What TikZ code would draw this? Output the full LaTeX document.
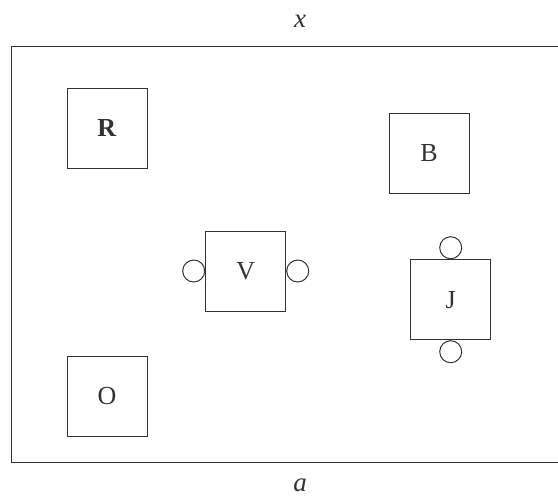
\documentclass[tikz,border=0pt]{standalone}
\usepackage{fontspec}
\setmainfont{Liberation Serif}
\definecolor{ink}{HTML}{333333}
\begin{document}
\begin{tikzpicture}[x=1pt,y=-1pt,
  box/.style={draw=ink, line width=1.0pt, minimum width=80pt, minimum height=80pt, inner sep=0pt, font=\fontsize{26}{30}\selectfont, text=ink},
  port/.style={draw=ink, line width=1.0pt, circle, minimum size=22pt, inner sep=0pt, fill=white},
  frame/.style={draw=ink, line width=1.3pt, minimum width=578pt, minimum height=416pt, inner sep=0pt, anchor=north west},
  lbl/.style={font=\fontsize{27}{30}\selectfont\itshape, text=ink, inner sep=0pt}]
\useasboundingbox (0,0) rectangle (558,496);
\clip (0,0) rectangle (558,496);
\node[frame] (fr) at (11,45.5) {};
\node[lbl] (xl) at (300,21) {x};
\node[lbl] (al) at (300,485) {a};
\node[box] (R) at (107,128) {\textbf{R}};
\node[box] (B) at (429,153) {B};
\node[box] (V) at (245.7,271) {V};
\node[box] (J) at (450.7,299.7) {J};
\node[box] (O) at (107,396.5) {O};
\node[port] (vl) at ([xshift=-11.5pt]V.west) {};
\node[port] (vr) at ([xshift=11.5pt]V.east) {};
\node[port] (jt) at ([yshift=11.5pt]J.north) {};
\node[port] (jb) at ([yshift=-11.5pt]J.south) {};
\end{tikzpicture}
\end{document}
